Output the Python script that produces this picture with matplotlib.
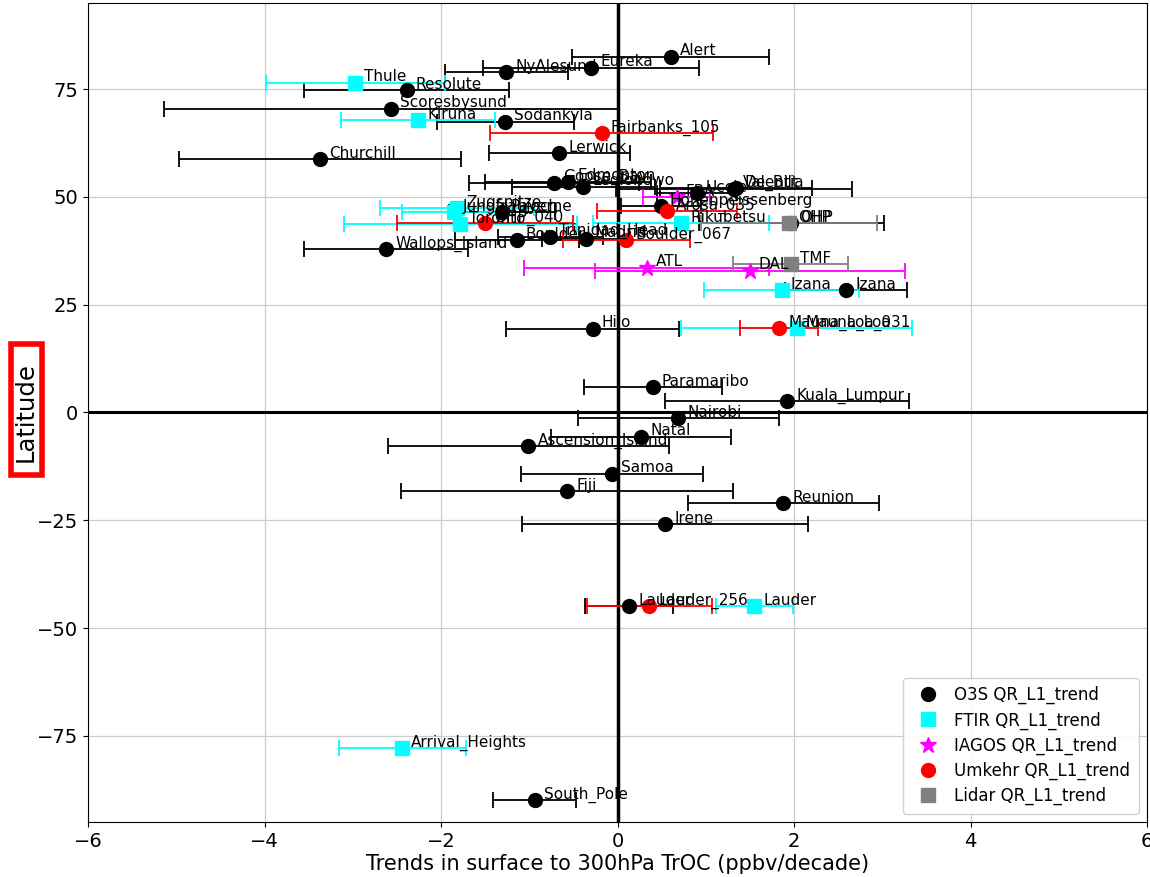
import matplotlib
matplotlib.use("Agg")
import matplotlib.pyplot as plt
from matplotlib.patches import Rectangle

# ---------------- data ----------------
o3s_names = ['Alert', 'Eureka', 'NyAlesund', 'Resolute', 'Scoresbysund', 'Sodankyla',
             'Lerwick', 'Churchill', 'Goose_Bay', 'Edmonton', 'Legionowo', 'De_Bilt',
             'Valentia', 'Uccle', 'Hohenpeissenberg', 'Payerne', 'OHP', 'Wallops_Island',
             'Boulder', 'Trinidad_Head', 'Madrid', 'Izana', 'Hilo', 'Paramaribo',
             'Kuala_Lumpur', 'Nairobi', 'Natal', 'Ascension_Island', 'Samoa', 'Fiji',
             'Reunion', 'Irene', 'Lauder', 'South_Pole']
o3s_lat = [82.5, 80.0, 78.9, 74.7, 70.5, 67.4, 60.1, 58.7, 53.3, 53.5, 52.4, 52.1,
           51.9, 50.8, 47.9, 46.5, 43.9, 37.9, 40.0, 40.8, 40.3, 28.4, 19.4, 5.8,
           2.7, -1.3, -5.6, -7.8, -14.2, -18.2, -21.1, -25.9, -45.0, -90.0]
o3s_trend = [0.60, -0.30, -1.26, -2.39, -2.57, -1.27, -0.66, -3.37, -0.72, -0.56, -0.39, 1.34,
             1.32, 0.90, 0.49, -1.31, 1.97, -2.62, -1.14, -0.76, -0.36, 2.59, -0.28, 0.40,
             1.92, 0.69, 0.27, -1.01, -0.06, -0.57, 1.88, 0.54, 0.13, -0.94]
o3s_err = [1.12, 1.22, 0.70, 1.16, 2.57, 0.78, 0.80, 1.60, 0.96, 0.94, 0.81, 0.86,
           1.34, 0.45, 0.45, 0.60, 1.05, 0.93, 0.70, 0.60, 0.50, 0.69, 0.98, 0.78,
           1.38, 1.14, 1.02, 1.59, 1.03, 1.88, 1.08, 1.62, 0.50, 0.47]

ftir_names = ['Thule', 'Kiruna', 'Zugspitze', 'Jungfraujoch', 'Toronto', 'Rikubetsu',
              'Izana', 'Mauna_Loa', 'Lauder', 'Arrival_Heights']
ftir_lat = [76.5, 67.8, 47.4, 46.5, 43.6, 43.9, 28.3, 19.5, -45.0, -77.8]
ftir_trend = [-2.97, -2.26, -1.82, -1.85, -1.78, 0.72, 1.86, 2.03, 1.55, -2.44]
ftir_err = [1.01, 0.87, 0.87, 0.59, 1.32, 1.00, 0.88, 1.31, 0.44, 0.72]

iagos_names = ['FRA', 'ATL', 'DAL']
iagos_lat = [50.0, 33.6, 32.9]
iagos_trend = [0.67, 0.33, 1.50]
iagos_err = [0.38, 1.39, 1.76]

umkehr_names = ['Fairbanks_105', 'Arosa_035', 'OHP_040', 'Boulder_067', 'Mauna_Loa_031', 'Lauder_256']
umkehr_lat = [64.8, 46.8, 43.9, 40.0, 19.5, -45.0]
umkehr_trend = [-0.18, 0.56, -1.50, 0.10, 1.83, 0.36]
umkehr_err = [1.26, 0.79, 1.00, 0.72, 0.44, 0.71]

lidar_names = ['OHP', 'TMF']
lidar_lat = [43.9, 34.4]
lidar_trend = [1.94, 1.96]
lidar_err = [1.00, 0.65]

xticks = [-6, -4, -2, 0, 2, 4, 6]
yticks = [-75, -50, -25, 0, 25, 50, 75]

# ---------------- plot ----------------
fig = plt.figure(figsize=(11.5, 8.77), dpi=100)
ax = fig.add_axes([0.0765, 0.0627, 0.921, 0.934])

groups = [
    (o3s_names, o3s_lat, o3s_trend, o3s_err, 'o', 'black', 'O3S QR_L1_trend', 10),
    (ftir_names, ftir_lat, ftir_trend, ftir_err, 's', 'cyan', 'FTIR QR_L1_trend', 10),
    (iagos_names, iagos_lat, iagos_trend, iagos_err, '*', 'magenta', 'IAGOS QR_L1_trend', 12),
    (umkehr_names, umkehr_lat, umkehr_trend, umkehr_err, 'o', 'red', 'Umkehr QR_L1_trend', 10),
    (lidar_names, lidar_lat, lidar_trend, lidar_err, 's', 'grey', 'Lidar QR_L1_trend', 10),
]

for names, lat, trend, err, mk, col, lab, ms in groups:
    ax.errorbar(trend, lat, xerr=err, fmt='none', ecolor=col, elinewidth=1.3,
                capsize=5.5, capthick=1.3, zorder=2)
    ax.plot(trend, lat, linestyle='none', marker=mk, color=col, markersize=ms,
            label=lab, zorder=3)
    for n, x, y in zip(names, trend, lat):
        ax.annotate(n, (x, y), xytext=(6.5, 1), textcoords='offset points',
                    va='baseline', ha='left', fontsize=11, zorder=4)

ax.axvline(0, color='black', linewidth=2.5, zorder=1.5)
ax.axhline(0, color='black', linewidth=2.2, zorder=1.5)

ax.set_xlim(-6, 6)
ax.set_ylim(-95, 95)
ax.set_xticks(xticks)
ax.set_yticks(yticks)
ax.tick_params(labelsize=14)
ax.grid(True, color='#cccccc', linewidth=0.9, zorder=0)
ax.set_axisbelow(True)

ax.set_xlabel('Trends in surface to 300hPa TrOC (ppbv/decade)', fontsize=15, labelpad=2)
ax.set_ylabel('Latitude', fontsize=17.5)
ax.yaxis.label.set_va('center')
ax.yaxis.set_label_coords(-0.0585, 0.5)

# red frame around the y-axis label
fig.patches.append(Rectangle((11 / 1150, 1 - 475 / 877), 31 / 1150, 131 / 877,
                             transform=fig.transFigure, fill=False,
                             edgecolor='red', linewidth=4))

ax.legend(loc='lower right', fontsize=12, framealpha=0.9, borderpad=0.5,
          handletextpad=0.6, labelspacing=0.42)

fig.savefig('out.png', dpi=100)
